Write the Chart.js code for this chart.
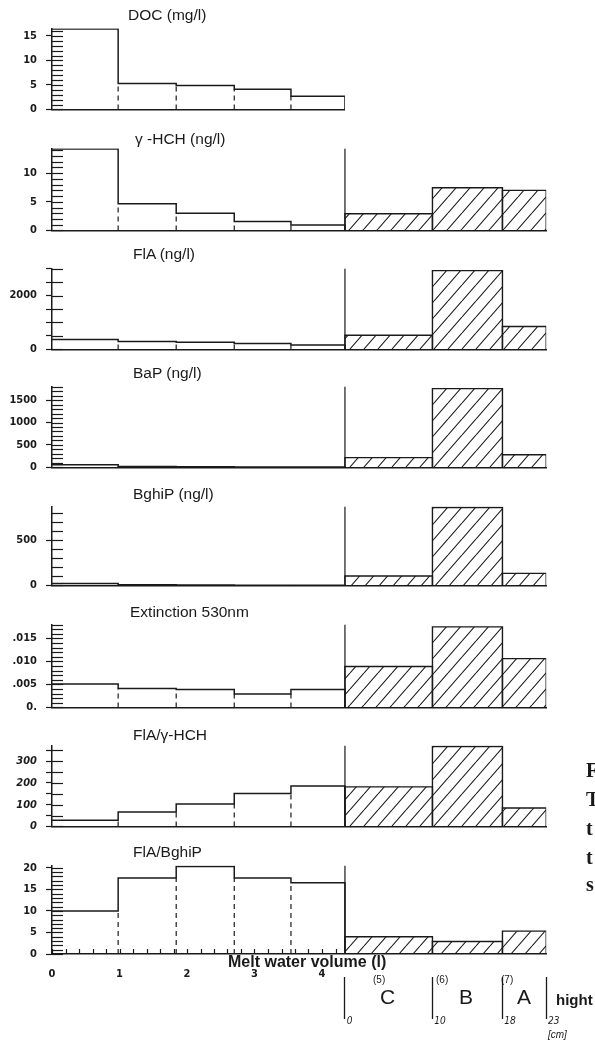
<!DOCTYPE html>
<html><head><meta charset="utf-8">
<script src="https://cdn.jsdelivr.net/npm/chart.js@4.4.1/dist/chart.umd.min.js"></script>
<style>
html,body{margin:0;padding:0;background:#fff;}
#page{position:relative;width:595px;height:1041px;overflow:hidden;background:#fff;font-family:'Liberation Sans',Arial,sans-serif;color:#1a1a1a;}
canvas{position:absolute;left:0;}
.txt{position:absolute;white-space:nowrap;line-height:1;z-index:5;}
</style></head><body><div id="page"></div>
<script>
// ---------- data ----------
const volumeEdges = [0, 0.98, 1.84, 2.70, 3.54, 4.34];   // melt water volume (l)
const heightEdges = [0, 10, 18, 23];                      // snow height (cm)
const layerLabels = ['C', 'B', 'A'];
const layerNumbers = ['(5)', '(6)', '(7)'];
const volumeTickLabels = ['0', '1', '2', '3', '4'];
const heightTickLabels = ['0', '10', '18', '23'];

const docValues      = [16.4, 5.3, 4.9, 4.1, 2.7];
const hchValues      = [14.25, 4.65, 3.0, 1.55, 0.95];
const hchLayers      = [2.9, 7.45, 7.0];
const flaValues      = [366, 290, 269, 215, 161];
const flaLayers      = [527, 2925, 850];
const bapValues      = [60, 22, 12, 10, 8];
const bapLayers      = [218, 1756, 282];
const bghipValues    = [22, 8, 4, 3, 3];
const bghipLayers    = [104, 860, 133];
const extValues      = [0.0051, 0.0041, 0.0039, 0.0029, 0.0039];
const extLayers      = [0.0089, 0.0175, 0.0106];
const flaHchValues   = [28, 66, 103, 151, 186];
const flaHchLayers   = [182, 368, 85];
const flaBghipValues = [10.0, 17.6, 20.3, 17.6, 16.5];
const flaBghipLayers = [4.0, 2.9, 5.3];

const docTicks      = [[0,'0'],[5,'5'],[10,'10'],[15,'15']];
const hchTicks      = [[0,'0'],[5,'5'],[10,'10']];
const flaTicks      = [[0,'0'],[2000,'2000']];
const bapTicks      = [[0,'0'],[500,'500'],[1000,'1000'],[1500,'1500']];
const bghipTicks    = [[0,'0'],[500,'500']];
const extTicks      = [[0,'0.'],[0.005,'.005'],[0.01,'.010'],[0.015,'.015']];
const flaHchTicks   = [[0,'0'],[100,'100'],[200,'200'],[300,'300']];
const flaBghipTicks = [[0,'0'],[5,'5'],[10,'10'],[15,'15'],[20,'20']];

const panels = [
  {title:'DOC (mg/l)',       values:docValues,      layers:null,           yMax:16.5,  step:1,     ticks:docTicks},
  {title:'γ -HCH (ng/l)',    values:hchValues,      layers:hchLayers,      yMax:14.3,  step:1,     ticks:hchTicks},
  {title:'FlA (ng/l)',       values:flaValues,      layers:flaLayers,      yMax:3000,  step:500,   ticks:flaTicks, crossAll:true},
  {title:'BaP (ng/l)',       values:bapValues,      layers:bapLayers,      yMax:1800,  step:100,   ticks:bapTicks},
  {title:'BghiP (ng/l)',     values:bghipValues,    layers:bghipLayers,    yMax:870,   step:100,   ticks:bghipTicks},
  {title:'Extinction 530nm', values:extValues,      layers:extLayers,      yMax:0.018, step:0.001, ticks:extTicks},
  {title:'FlA/γ-HCH',        values:flaHchValues,   layers:flaHchLayers,   yMax:372,   step:50,    ticks:flaHchTicks, crossAll:true, italic:true},
  {title:'FlA/BghiP',        values:flaBghipValues, layers:flaBghipLayers, yMax:20.5,  step:1,     ticks:flaBghipTicks}
];

// ---------- layout ----------
const W = 595, AXIS_X = 52, PX_PER_L = 67.5, PX_PER_CM = 8.75;
const INK = '#1a1a1a';
const TICK_FAMILY = "'Liberation Sans Narrow','DejaVu Sans Condensed','Liberation Sans',sans-serif";
const frames = [
  {top:25,  base:119, ty:16,  tx:128},
  {top:145, base:240, ty:140, tx:135},
  {top:265, base:359, ty:255, tx:133},
  {top:383, base:477, ty:374, tx:133},
  {top:503, base:595, ty:495, tx:133},
  {top:621, base:717, ty:613, tx:130},
  {top:742, base:836, ty:736, tx:133},
  {top:862, base:954, ty:853, tx:133}
];
const page = document.getElementById('page');

function addText(str, left, cy, size, extra) {
  const d = document.createElement('div');
  d.className = 'txt';
  d.textContent = str;
  d.style.left = left + 'px';
  d.style.top = (cy - size * 0.55) + 'px';
  d.style.fontSize = size + 'px';
  if (extra) Object.assign(d.style, extra);
  page.appendChild(d);
}

function makeHatch(ctx) {
  const w = 14, h = 16;
  const c = document.createElement('canvas');
  c.width = w; c.height = h;
  const g = c.getContext('2d');
  g.strokeStyle = INK; g.lineWidth = 1.1;
  g.beginPath();
  g.moveTo(0, h); g.lineTo(w, 0);
  g.moveTo(-w, h); g.lineTo(0, 0);
  g.moveTo(w, h); g.lineTo(2 * w, 0);
  g.stroke();
  return ctx.createPattern(c, 'repeat');
}

const innerTicks = {
  id: 'innerTicks',
  afterDatasetsDraw(chart, args, opts) {
    const {ctx, chartArea, scales} = chart;
    ctx.save();
    ctx.strokeStyle = INK; ctx.lineWidth = 1.2;
    scales.y.ticks.forEach(t => {
      const py = Math.round(scales.y.getPixelForValue(t.value)) + 0.5;
      ctx.beginPath(); ctx.moveTo(chartArea.left, py); ctx.lineTo(chartArea.left + opts.len, py); ctx.stroke();
    });
    if (opts.xMinor) {
      scales.x.ticks.forEach(t => {
        if (t.value > opts.xEnd - 0.05) return;
        const px = Math.round(scales.x.getPixelForValue(t.value)) + 0.5;
        ctx.beginPath(); ctx.moveTo(px, chartArea.bottom); ctx.lineTo(px, chartArea.bottom - 5); ctx.stroke();
      });
    }
    ctx.restore();
  }
};

const joinL = volumeEdges[volumeEdges.length - 1];

panels.forEach((p, i) => {
  const f = frames[i];
  const isBottom = i === panels.length - 1;
  const padTop = 12, padBot = isBottom ? 4 : 6;
  const xAxH = isBottom ? 23 : 0, cmAxH = isBottom ? 60 : 0;
  const right = AXIS_X + joinL * PX_PER_L + (p.layers ? heightEdges[heightEdges.length - 1] * PX_PER_CM : 0);
  const canvasH = padTop + (f.base - f.top) + xAxH + cmAxH + padBot;

  const cv = document.createElement('canvas');
  cv.width = W; cv.height = canvasH;
  cv.style.top = (f.top - padTop) + 'px';
  cv.style.width = W + 'px'; cv.style.height = canvasH + 'px';
  page.appendChild(cv);
  const ctx = cv.getContext('2d');
  const hatch = makeHatch(ctx);

  const isLabeled = v => p.ticks.some(([tv]) => Math.abs(tv - v) < p.step * 0.01);
  const labelOf = v => { const e = p.ticks.find(([tv]) => Math.abs(tv - v) < p.step * 0.01); return e ? e[1] : ''; };

  const ds = [];
  const line = (data, extra) => Object.assign({data, borderColor: INK, borderWidth: 1.5, pointRadius: 0, fill: false, tension: 0, xAxisID: 'x', yAxisID: 'y'}, extra || {});

  // step outline of the volume fractions (horizontal at each value, then vertical at the next edge)
  const stepPts = p.values.map((v, k) => ({x: volumeEdges[k], y: v}));
  stepPts.push({x: joinL, y: p.values[p.values.length - 1]}, {x: joinL, y: 0});
  ds.push(line(stepPts, {stepped: 'before'}));
  // dashed dividers
  for (let k = 1; k < p.values.length; k++) {
    const m = Math.min(p.values[k - 1], p.values[k]);
    ds.push(line([{x: volumeEdges[k], y: 0}, {x: volumeEdges[k], y: m}], {borderDash: [5, 4], borderWidth: 1.2}));
  }
  // snow layers (hatched)
  if (p.layers) {
    ds.push(line([{x: 0, y: 0}, {x: 0, y: p.yMax}], {xAxisID: 'xc', borderWidth: 1.2}));
    p.layers.forEach((v, k) => {
      const a = heightEdges[k], b = heightEdges[k + 1];
      ds.push(line([{x: a, y: 0}, {x: a, y: v}, {x: b, y: v}, {x: b, y: 0}],
        {xAxisID: 'xc', fill: 'origin', backgroundColor: hatch, borderWidth: 1.4}));
    });
  }

  const tickFont = {family: TICK_FAMILY, size: 11, weight: 'bold', style: p.italic ? 'italic' : 'normal'};
  const scales = {
    x: {
      type: 'linear', axis: 'x', position: 'bottom', weight: 0,
      min: 0, max: (right - AXIS_X) / PX_PER_L,
      border: {display: true, color: INK, width: 1.5},
      grid: {display: false, drawTicks: false, tickLength: 0},
      ticks: isBottom ? {
        display: true, stepSize: 0.2, autoSkip: false, maxRotation: 0, minRotation: 0, padding: 14,
        color: INK, font: {family: TICK_FAMILY, size: 11, weight: 'bold'},
        callback: v => (Math.abs(v - Math.round(v)) < 1e-6 && Math.round(v) < volumeTickLabels.length) ? volumeTickLabels[Math.round(v)] : ''
      } : {display: false},
      afterFit: s => { s.height = xAxH; }
    },
    y: {
      type: 'linear', position: 'left', min: 0, max: p.yMax,
      border: {display: true, color: INK, width: 1.5},
      grid: {display: true, drawOnChartArea: false, drawTicks: true, tickLength: 6, tickWidth: 1.2,
             tickColor: c => (p.crossAll || (c.tick && isLabeled(c.tick.value))) ? INK : 'rgba(0,0,0,0)'},
      ticks: {stepSize: p.step, includeBounds: false, autoSkip: false, padding: 9, color: INK, font: tickFont,
              callback: v => labelOf(v)},
      afterFit: s => { s.width = AXIS_X; }
    }
  };
  if (p.layers) {
    const cmMin = -joinL * PX_PER_L / PX_PER_CM;
    scales.xc = {
      type: 'linear', axis: 'x', position: 'bottom', weight: 1, display: isBottom,
      min: cmMin, max: cmMin + (right - AXIS_X) / PX_PER_CM,
      border: {display: false},
      grid: {display: true, drawOnChartArea: false, drawTicks: true, tickLength: 42, tickWidth: 1.3, tickColor: INK},
      ticks: {display: true, autoSkip: false, maxRotation: 0, minRotation: 0, align: 'start', padding: -4,
              color: INK, font: {family: TICK_FAMILY, size: 10, style: 'italic'},
              callback: (v, idx) => '\u2009' + heightTickLabels[idx]},
      afterBuildTicks: s => { s.ticks = heightEdges.map(v => ({value: v})); },
      afterFit: s => { s.height = cmAxH; }
    };
  }

  new Chart(ctx, {
    type: 'line',
    data: {datasets: ds},
    options: {
      responsive: false, animation: false, devicePixelRatio: 1,
      layout: {padding: {top: padTop, bottom: padBot, left: 0, right: W - right}},
      plugins: {legend: {display: false}, tooltip: {enabled: false}, title: {display: false},
                innerTicks: {len: 11, xMinor: isBottom, xEnd: joinL}},
      scales
    },
    plugins: [innerTicks]
  });

  addText(p.title, f.tx, f.ty, 15.5);
});

// bottom annotations
addText('Melt water volume (l)', 228, 963, 16, {fontWeight: 'bold'});
const layerNumPos = [373, 436, 501], layerLetPos = [380, 459, 517];
layerNumbers.forEach((s, k) => addText(s, layerNumPos[k], 980, 10));
layerLabels.forEach((s, k) => addText(s, layerLetPos[k], 998, 21));
addText('hight', 556, 1000, 15, {fontWeight: 'bold'});
addText('[cm]', 548, 1035, 10, {fontStyle: 'italic'});

// text of the neighbouring page column, cut at the right edge
const edgeLetters = [['F', 771], ['T', 800], ['t', 829], ['t', 858], ['s', 885]];
edgeLetters.forEach(([s, y]) => addText(s, 586, y, 20, {fontFamily: "'Liberation Serif','Times New Roman',serif", fontWeight: 'bold'}));
</script></body></html>
